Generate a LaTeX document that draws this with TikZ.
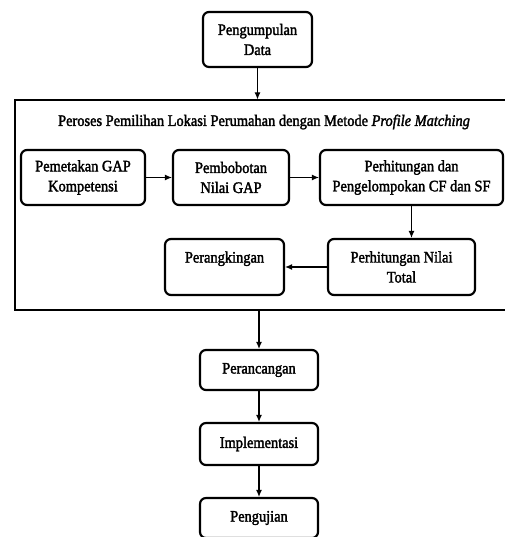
\documentclass[tikz,border=0pt]{standalone}
\usepackage{fontspec}
\setmainfont[FakeBold=2, FakeStretch=0.9]{Liberation Serif}
\usetikzlibrary{arrows.meta}

\begin{document}
\begin{tikzpicture}[x=1pt, y=-1pt,
	every node/.style={font=\fontsize{16}{20}\selectfont, align=center},
	box/.style={draw, rounded corners=6pt, line width=.03in, inner sep=2pt},
	arr/.style={-{Latex[length=7pt, width=6pt]}, line width=.015in}]
	\useasboundingbox (0,0) rectangle (504,537);
		% tahap awal
		\node[box, minimum width=109pt, minimum height=55pt] (data) at (257.5,39.5) {Pengumpulan\\Data};
		% proses profile matching
		\node[draw, line width=.015in, minimum width=491pt, minimum height=210pt] (proses) at (260.5,205) {};
		\node (judul) at (264,122) {Peroses Pemilihan Lokasi Perumahan dengan Metode \textit{Profile Matching}};
			\node[box, minimum width=124pt, minimum height=55pt] (gap) at (83,177.5) {Pemetakan GAP\\Kompetensi};
			\node[box, minimum width=116pt, minimum height=55pt] (bobot) at (231,177.5) {Pembobotan\\Nilai GAP};
			\node[box, minimum width=183pt, minimum height=55pt] (cfsf) at (411.5,177.5) {Perhitungan dan\\Pengelompokan CF dan SF};
			\node[box, minimum width=147pt, minimum height=56pt] (total) at (401.5,267) {Perhitungan Nilai\\Total};
			\node[box, minimum width=119pt, minimum height=56pt] (rank) at (224.5,267) {Perangkingan\\\mbox{}};
			\draw[arr] (gap) -- (bobot);
			\draw[arr] (bobot) -- (cfsf);
			\draw[arr] (cfsf) -- (cfsf |- total.north);
			\draw[arr] (total) -- (rank);
		% tahap akhir
		\node[box, minimum width=118pt, minimum height=40pt] (rancang) at (259,370) {Perancangan};
		\node[box, minimum width=118pt, minimum height=42pt] (impl) at (259,444) {Implementasi};
		\node[box, minimum width=118pt, minimum height=40pt] (uji) at (259,518) {Pengujian};

		\draw[arr] (data) -- (data |- proses.north);
		\draw[arr] (rancang |- proses.south) -- (rancang);
		\draw[arr] (rancang) -- (impl);
		\draw[arr] (impl) -- (uji);
	\end{tikzpicture}
\end{document}
